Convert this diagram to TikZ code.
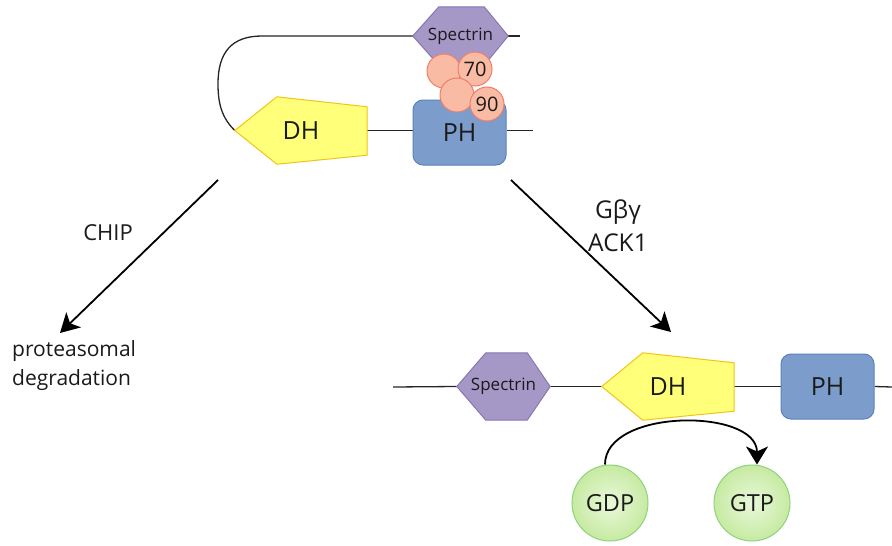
\documentclass[tikz,border=0pt]{standalone}
\usepackage{fontspec}
\setmainfont{Open Sans}
\usetikzlibrary{arrows.meta,calc}
\pgfdeclarelayer{bg}
\pgfdeclarelayer{lines}
\pgfdeclarelayer{shapes}
\pgfsetlayers{bg,lines,shapes,main}
\definecolor{specF}{HTML}{A597C6}
\definecolor{specD}{HTML}{8777B4}
\definecolor{dhF}{HTML}{FFFF7A}
\definecolor{dhD}{HTML}{F2C416}
\definecolor{phF}{HTML}{7C9DCC}
\definecolor{phD}{HTML}{5A82BF}
\definecolor{hspF}{HTML}{F9BBA3}
\definecolor{hspD}{HTML}{EF7E6A}
\definecolor{gIn}{HTML}{EAF8DA}
\definecolor{gOut}{HTML}{C6EAA2}
\definecolor{gD}{HTML}{8ED478}
\definecolor{txt}{HTML}{1A1A1A}
\tikzset{
  x=1pt, y=-1pt,
  lbl/.style={inner sep=0pt, text=txt, font=\fontsize{#1}{#1}\selectfont},
  box/.style={inner sep=0pt, text=txt},
  specshape/.style={fill=specF, draw=specD, line width=1pt},
  dhshape/.style={fill=dhF, draw=dhD, line width=1pt},
  phbox/.style={box, fill=phF, draw=phD, line width=1pt, rounded corners=10pt,
    minimum width=93pt, minimum height=65pt, font=\fontsize{25}{25}\selectfont},
  hsp/.style={box, circle, fill=hspF, draw=hspD, line width=1pt, minimum size=34pt,
    font=\fontsize{20}{20}\selectfont},
  gnuc/.style={box, circle, inner color=gIn, outer color=gOut, draw=gD, line width=1pt,
    minimum size=76pt, font=\fontsize{23.5}{23.5}\selectfont},
  chain/.style={draw=black!85, line width=1.3pt},
  arr/.style={draw=black, line width=1.8pt, -{Stealth[length=19pt,width=21pt,inset=5pt]}},
  garr/.style={draw=black, line width=1.8pt, -{Stealth[length=18pt,width=22pt,inset=5pt]}}
}
\begin{document}
\begin{tikzpicture}
\begin{pgfonlayer}{bg}
\fill[white] (0,0) rectangle (892,546);
\end{pgfonlayer}
\useasboundingbox (0,0) rectangle (892,546);

% ---------- top (inactive) molecule ----------
\node[box, minimum width=95pt, minimum height=58pt, font=\fontsize{17}{17}\selectfont] (sp1) at (460.5,36) {Spectrin};
\node[box, minimum width=132pt, minimum height=67pt, font=\fontsize{25}{25}\selectfont] (dh1) at (301,130.5) {DH};
\node[phbox] (ph1) at (459.5,132.5) {PH};
\node[hsp] (c1) at (444,71) {};
\node[hsp] (c70) at (475,69) {70};
\node[hsp] (c3) at (457,95) {};
\node[hsp] (c90) at (487,104) {90};
\coordinate (t1end) at (520,36);
\coordinate (p1end) at (533,130.5);

\begin{pgfonlayer}{shapes}
\draw[specshape] (sp1.west) -- ($(sp1.north west)+(26,0)$) -- ($(sp1.north east)+(-24,0)$)
  -- (sp1.east) -- ($(sp1.south east)+(-24,0)$) -- ($(sp1.south west)+(26,0)$) -- cycle;
\draw[dhshape] (dh1.west) -- ($(dh1.north west)+(42,0)$) -- ($(dh1.north east)+(0,10)$)
  -- ($(dh1.south east)+(0,-9)$) -- ($(dh1.south west)+(42,0)$) -- cycle;
\end{pgfonlayer}
\begin{pgfonlayer}{lines}
\draw[chain] (dh1.west) .. controls (222,118) and (218,104) .. (218,84)
  .. controls (218,52) and (232,36) .. (262,36) -- (sp1.west);
\draw[chain] (sp1.east) -- (t1end);
\draw[chain] (dh1.east) -- (dh1.east -| ph1.west);
\draw[chain] (p1end -| ph1.east) -- (p1end);
\end{pgfonlayer}

% ---------- arrows and labels ----------
\coordinate (a1s) at (218,180);
\coordinate (a1e) at (60,333);
\coordinate (a2s) at (511,180);
\coordinate (a2e) at (671,332);
\draw[arr] (a1s) -- (a1e);
\draw[arr] (a2s) -- (a2e);
\node[lbl=22] (chip) at (108,233) {CHIP};
\node[lbl=21, anchor=north west, align=left, font=\fontsize{21}{29}\selectfont] (deg) at (12,340) {proteasomal\\degradation};
\node[lbl=24.5, align=center, font=\fontsize{24.5}{33}\selectfont] (gbg) at (618,226) {Gβγ\\ACK1};

% ---------- bottom (active) molecule ----------
\node[box, minimum width=93pt, minimum height=67pt, font=\fontsize{17}{17}\selectfont] (sp2) at (503.5,386.5) {Spectrin};
\node[box, minimum width=132pt, minimum height=67pt, font=\fontsize{25}{25}\selectfont] (dh2) at (668,386.5) {DH};
\node[phbox] (ph2) at (827.5,386.5) {PH};
\coordinate (l2s) at (393,387);
\coordinate (l2e) at (892,387);

\begin{pgfonlayer}{shapes}
\draw[specshape] (sp2.west) -- ($(sp2.north west)+(29,0)$) -- ($(sp2.north east)+(-23,0)$)
  -- (sp2.east) -- ($(sp2.south east)+(-23,0)$) -- ($(sp2.south west)+(29,0)$) -- cycle;
\draw[dhshape] (dh2.west) -- ($(dh2.north west)+(41,0)$) -- ($(dh2.north east)+(0,10)$)
  -- ($(dh2.south east)+(0,-9)$) -- ($(dh2.south west)+(41,0)$) -- cycle;
\end{pgfonlayer}
\begin{pgfonlayer}{lines}
\draw[chain] (l2s) -- (sp2.west);
\draw[chain] (sp2.east) -- (dh2.west);
\draw[chain] (dh2.east) -- (ph2.west);
\draw[chain] (ph2.east) -- (l2e);
\end{pgfonlayer}

\node[gnuc] (gdp) at (610,503) {GDP};
\node[gnuc] (gtp) at (752,503) {GTP};
\draw[garr] ($(gdp.north)+(-5,0)$) .. controls (605,408) and (757,408) .. ($(gtp.north)+(5,0)$);
\end{tikzpicture}
\end{document}
